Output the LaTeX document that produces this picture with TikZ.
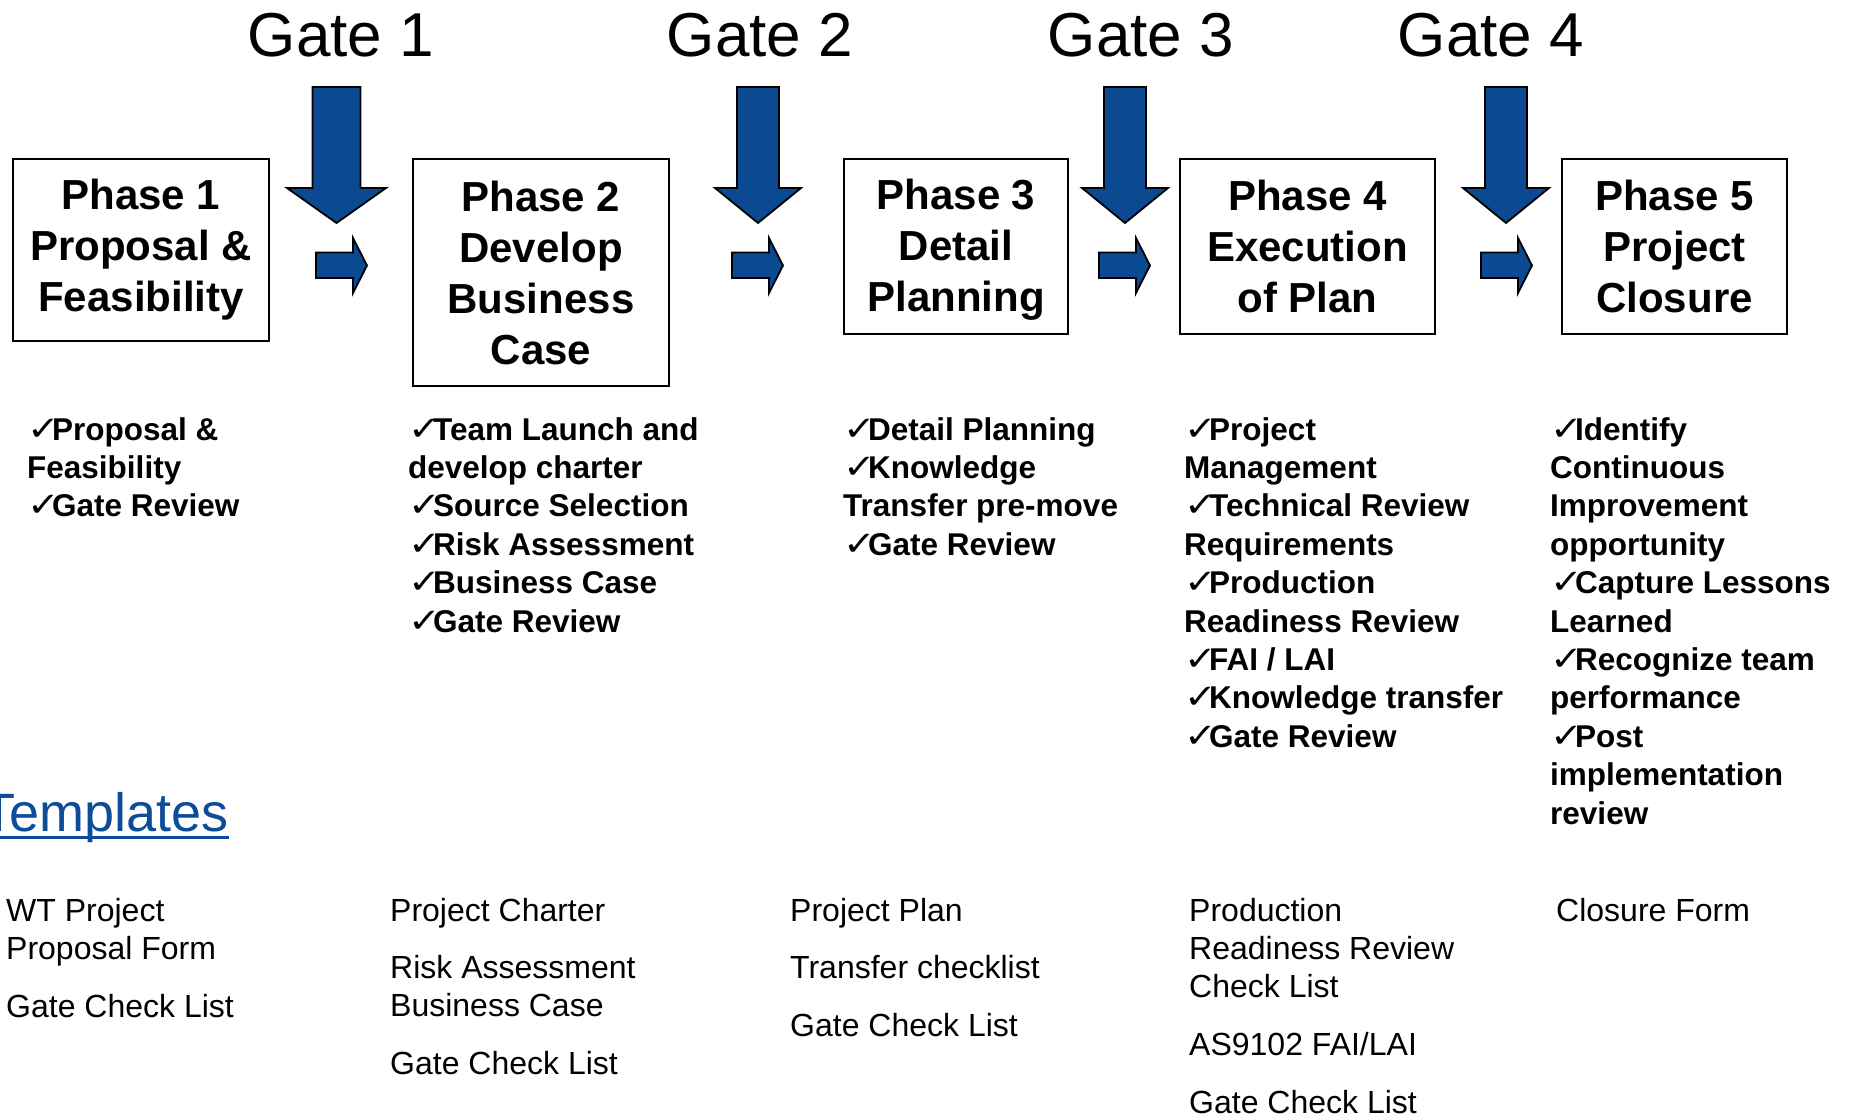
\documentclass[tikz,border=0pt]{standalone}
\usepackage{graphicx}
\usepackage{fontspec}
\setmainfont{Liberation Sans}
\newfontfamily\tickfont{DejaVu Sans}
\definecolor{gateblue}{HTML}{0B4A91}
\definecolor{linkblue}{HTML}{0D4C97}
% check mark in front of each duty
\newcommand{\tickmark}{\makebox[25pt][l]{\tickfont\mdseries\fontsize{26}{26}\selectfont\scalebox{1.5}[1.3]{✓}}}
\begin{document}
\begin{tikzpicture}[x=1pt, y=-1pt]
\tikzset{
  phasebox/.style={draw, line width=2pt, inner sep=0pt, align=center,
    font=\fontsize{42}{51}\selectfont\bfseries},
  gatelabel/.style={anchor=base, inner sep=0pt, font=\fontsize{62}{70}\selectfont},
  duties/.style={anchor=base west, inner sep=0pt, font=\fontsize{31.5}{38.4}\selectfont\bfseries},
  tpl/.style={anchor=base west, inner sep=0pt, font=\fontsize{32}{38}\selectfont},
  blockarrow/.style={fill=gateblue, draw=black, line width=1.8pt, line join=miter},
}
\useasboundingbox (0,0) rectangle (1856,1116);

% gate titles
\node[gatelabel] (g1) at (341,57) {Gate 1};
\node[gatelabel] (g2) at (760,57) {Gate 2};
\node[gatelabel] (g3) at (1141,57) {Gate 3};
\node[gatelabel] (g4) at (1491,57) {Gate 4};

% phase boxes
\node[phasebox, minimum width=256pt, minimum height=182pt] (p1) at (141,250) {Phase 1\\Proposal \&\\Feasibility};
\node[phasebox, minimum width=256pt, minimum height=227pt] (p2) at (541,272.5) {Phase 2\\Develop\\Business\\Case};
\node[phasebox, minimum width=224pt, minimum height=175pt] (p3) at (956,246.5) {\raisebox{-3.5pt}[\height][\depth]{\begin{tabular}{@{}c@{}}Phase 3\\Detail\\Planning\end{tabular}}};
\node[phasebox, minimum width=255pt, minimum height=175pt] (p4) at (1307.5,246.5) {Phase 4\\Execution\\of Plan};
\node[phasebox, minimum width=225pt, minimum height=175pt] (p5) at (1674.5,246.5) {Phase 5\\Project\\Closure};

% downward gate arrows
\foreach \cx/\sw/\hw in {336.5/24/49.5, 758/21/43, 1125/21/43, 1506/21/43} {
  \draw[blockarrow] ({\cx-\sw},87) -- ({\cx+\sw},87) -- ({\cx+\sw},188) -- ({\cx+\hw},188)
    -- (\cx,223) -- ({\cx-\hw},188) -- ({\cx-\sw},188) -- cycle;
}

% small arrows between the phases
\foreach \lx in {316, 732, 1099, 1481} {
  \draw[blockarrow] (\lx,252.5) -- ({\lx+37},252.5) -- ({\lx+37},238) -- ({\lx+51},265.5)
    -- ({\lx+37},293) -- ({\lx+37},278) -- (\lx,278) -- cycle;
}

% duties per phase
\node[duties] (d1) at (27,440) {\begin{tabular}[t]{@{}l@{}}
\tickmark Proposal \&\\
Feasibility\\
\tickmark Gate Review
\end{tabular}};
\node[duties] (d2) at (408,440) {\begin{tabular}[t]{@{}l@{}}
\tickmark Team Launch and\\
develop charter\\
\tickmark Source Selection\\
\tickmark Risk Assessment\\
\tickmark Business Case\\
\tickmark Gate Review
\end{tabular}};
\node[duties] (d3) at (843,440) {\begin{tabular}[t]{@{}l@{}}
\tickmark Detail Planning\\
\tickmark Knowledge\\
Transfer pre-move\\
\tickmark Gate Review
\end{tabular}};
\node[duties] (d4) at (1184,440) {\begin{tabular}[t]{@{}l@{}}
\tickmark Project\\
Management\\
\tickmark Technical Review\\
Requirements\\
\tickmark Production\\
Readiness Review\\
\tickmark FAI / LAI\\
\tickmark Knowledge transfer\\
\tickmark Gate Review
\end{tabular}};
\node[duties] (d5) at (1550,440) {\begin{tabular}[t]{@{}l@{}}
\tickmark Identify\\
Continuous\\
Improvement\\
opportunity\\
\tickmark Capture Lessons\\
Learned\\
\tickmark Recognize team\\
performance\\
\tickmark Post\\
implementation\\
review
\end{tabular}};

% templates heading
\node[anchor=base west, inner sep=0pt, text=linkblue, font=\fontsize{54}{60}\selectfont] (tplhead) at (-18,831) {Templates};
\draw[linkblue, line width=3pt] ([yshift=-6pt]tplhead.base west) -- ([yshift=-6pt]tplhead.base east);

% templates per phase
\node[tpl] (t1a) at (6,921) {\begin{tabular}[t]{@{}l@{}}WT Project\\Proposal Form\end{tabular}};
\node[tpl] (t1b) at (6,1017) {Gate Check List};
\node[tpl] (t2a) at (390,921) {Project Charter};
\node[tpl] (t2b) at (390,978) {\begin{tabular}[t]{@{}l@{}}Risk Assessment\\Business Case\end{tabular}};
\node[tpl] (t2c) at (390,1074) {Gate Check List};
\node[tpl] (t3a) at (790,921) {Project Plan};
\node[tpl] (t3b) at (790,978) {Transfer checklist};
\node[tpl] (t3c) at (790,1036) {Gate Check List};
\node[tpl] (t4a) at (1189,921) {\begin{tabular}[t]{@{}l@{}}Production\\Readiness Review\\Check List\end{tabular}};
\node[tpl] (t4b) at (1189,1055) {AS9102 FAI/LAI};
\node[tpl] (t4c) at (1189,1113) {Gate Check List};
\node[tpl] (t5a) at (1556,921) {Closure Form};
\end{tikzpicture}
\end{document}
